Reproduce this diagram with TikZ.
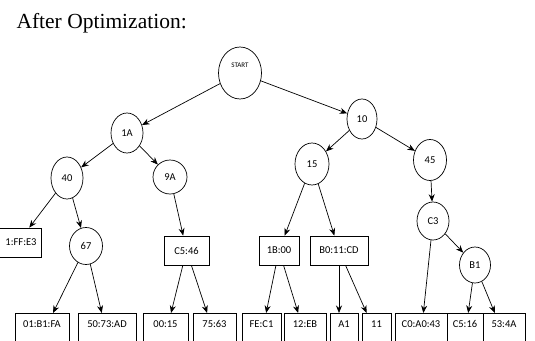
\documentclass[tikz,border=0pt]{standalone}
\usepackage{fontspec}
\setmainfont{Liberation Serif}
\newfontfamily\calib{Carlito}
\usetikzlibrary{shapes.geometric, arrows.meta}

\begin{document}
\begin{tikzpicture}[x=1pt,y=-1pt,
	vert/.style={ellipse,draw,line width=0.7pt,minimum width=32pt,minimum height=40pt,inner sep=0pt,font=\calib\fontsize{10.5}{12}\selectfont},
	midbox/.style={rectangle,draw,line width=0.7pt,minimum height=29pt,inner sep=0pt,font=\calib\fontsize{10.5}{12}\selectfont},
	leafbox/.style={rectangle,draw,line width=0.7pt,anchor=north,inner xsep=0pt,inner ysep=7.5pt,text height=7pt,text depth=22pt,font=\calib\fontsize{10.5}{12}\selectfont},
	arr/.style={-{Stealth[length=7.5pt,width=6pt]},line width=0.7pt}]
	\useasboundingbox (0,0) rectangle (535,340);
	
	%title
	\node[anchor=base west,font=\fontsize{21.5}{24}\selectfont] (title) at (13,28) {After Optimization:};
	
	%circles
	\node[vert,minimum width=43pt,minimum height=52pt,label={[font=\calib\fontsize{7}{8}\selectfont,yshift=8pt]center:START}] (start) at (240,73) {};
	\node[vert] (n1A) at (127,133) {1A};
	\node[vert,minimum width=30pt] (n10) at (362,119) {10};
	\node[vert,minimum height=42pt] (n40) at (67,178) {40};
	\node[vert,minimum width=34pt,minimum height=34pt] (n9A) at (170,177) {9A};
	\node[vert,minimum width=34pt,minimum height=42pt] (n15) at (312,164) {15};
	\node[vert,minimum width=33pt,minimum height=41pt] (n45) at (430,160) {45};
	\node[vert,minimum width=33pt,minimum height=37pt] (n67) at (86,246) {67};
	\node[vert,minimum height=38pt] (nC3) at (433,221) {C3};
	\node[vert,minimum width=31pt,minimum height=36pt] (nB1) at (475,265) {B1};
	
	%middle boxes
	\node[midbox,minimum width=46pt] (bFFE3) at (18,242.5) {\hspace*{6pt}1:FF:E3};
	\node[midbox,minimum width=45pt] (bC546) at (186.5,250.5) {C5:46};
	\node[midbox,minimum width=40pt] (b1B00) at (279,250.5) {1B:00};
	\node[midbox,minimum width=58pt] (bB011CD) at (339,250.5) {B0:11:CD};
	
	%bottom boxes
	\node[leafbox,minimum width=54pt] (b01B1FA) at (42,313) {01:B1:FA};
	\node[leafbox,minimum width=58pt] (b5073AD) at (107,313) {50:73:AD};
	\node[leafbox,minimum width=45pt] (b0015) at (165.5,313) {00:15};
	\node[leafbox,minimum width=43pt] (b7563) at (214.5,313) {75:63};
	\node[leafbox,minimum width=39pt] (bFEC1) at (261.5,313) {FE:C1};
	\node[leafbox,minimum width=42pt] (b12EB) at (305,313) {12:EB};
	\node[leafbox,minimum width=28pt] (bA1) at (344,313) {A1};
	\node[leafbox,minimum width=29pt] (b11) at (376.5,313) {11};
	\node[leafbox,minimum width=52pt] (bC0A043) at (421,313) {C0:A0:43};
	\node[leafbox,minimum width=36pt] (bC516) at (465,313) {C5:16};
	\node[leafbox,minimum width=42pt] (b534A) at (504,313) {53:4A};
	
	%arrows
	\draw[arr] (start) -- (n1A);
	\draw[arr] (start) -- (n10);
	\draw[arr] (n1A) -- (n40);
	\draw[arr] (n1A) -- (n9A);
	\draw[arr] (n40) -- (bFFE3);
	\draw[arr] (n40) -- (n67);
	\draw[arr] (n67) -- (b01B1FA);
	\draw[arr] (n67) -- (b5073AD);
	\draw[arr] (n9A) -- (bC546);
	\draw[arr] (bC546) -- (b0015);
	\draw[arr] (bC546) -- (b7563);
	\draw[arr] (n10) -- (n15);
	\draw[arr] (n10) -- (n45);
	\draw[arr] (n15) -- (b1B00);
	\draw[arr] (n15) -- (bB011CD);
	\draw[arr] (b1B00) -- (bFEC1);
	\draw[arr] (b1B00) -- (b12EB);
	\draw[arr] (bB011CD) -- (bA1.north -| bB011CD);
	\draw[arr] (bB011CD) -- (b11);
	\draw[arr] (n45) -- (nC3);
	\draw[arr] (nC3) -- (bC0A043);
	\draw[arr] (nC3) -- (nB1);
	\draw[arr] (nB1) -- (bC516);
	\draw[arr] (nB1) -- (b534A);
\end{tikzpicture}
\end{document}
